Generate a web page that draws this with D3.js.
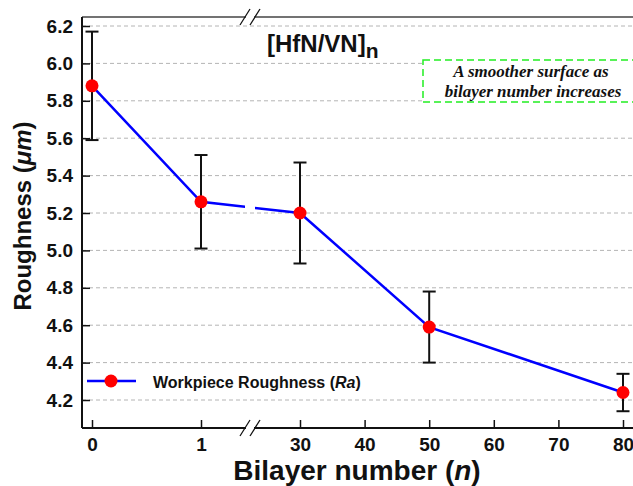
<!DOCTYPE html>
<html>
<head>
<meta charset="utf-8">
<script src="https://cdn.jsdelivr.net/npm/d3@7"></script>
<style>
  body { margin: 0; background: #fff; }
  svg { display: block; }
  text { font-family: Arial, "Liberation Sans", sans-serif; }
</style>
</head>
<body>
<div id="chart"></div>
<script>
// data
var bilayers = [0, 1, 30, 50, 80];
var roughness = [5.88, 5.26, 5.20, 4.59, 4.24];
var errLow = [5.59, 5.01, 4.93, 4.40, 4.14];
var errHigh = [6.17, 5.51, 5.47, 4.78, 4.34];
var xTicks = [0, 1, 30, 40, 50, 60, 70, 80];
var yTicks = [4.2, 4.4, 4.6, 4.8, 5.0, 5.2, 5.4, 5.6, 5.8, 6.0, 6.2];

var width = 633;
var height = 486;
var plotLeft = 82, plotTop = 17, plotBottom = 428, plotRight = 633;
var breakPx = 250;

// broken x axis: 0-1 then 30-80
var x = d3.scaleLinear()
  .domain([0, 1, 30, 80])
  .range([92, 201, 300, 623]);
var y = d3.scaleLinear()
  .domain([4.2, 6.2])
  .range([400, 26]);

var svg = d3.select("#chart").append("svg")
  .attr("width", width)
  .attr("height", height);

svg.append("rect").attr("width", width).attr("height", height).attr("fill", "#fff");

// grid
svg.append("g").selectAll("line")
  .data(yTicks)
  .enter().append("line")
  .attr("x1", plotLeft).attr("x2", plotRight)
  .attr("y1", function(d){ return y(d); })
  .attr("y2", function(d){ return y(d); })
  .attr("stroke", "#b4b4b4")
  .attr("stroke-width", 1)
  .attr("stroke-dasharray", "4,3");

// annotation box
svg.append("rect")
  .attr("x", 423).attr("y", 60)
  .attr("width", 230).attr("height", 42)
  .attr("fill", "#fff")
  .attr("stroke", "#22ee22")
  .attr("stroke-width", 1.5)
  .attr("stroke-dasharray", "7,4");
var note = svg.append("text")
  .attr("text-anchor", "middle")
  .style("font-family", "'Times New Roman', 'Liberation Serif', serif")
  .style("font-style", "italic")
  .style("font-weight", "bold")
  .style("font-size", "17px")
  .attr("fill", "#111");
note.append("tspan").attr("x", 531).attr("y", 77).text("A smoother surface as");
note.append("tspan").attr("x", 533).attr("y", 97).text("bilayer number increases");

// title
var title = svg.append("text")
  .attr("x", 267).attr("y", 52)
  .style("font-weight", "bold")
  .style("font-size", "24px")
  .attr("fill", "#111");
title.append("tspan").text("[HfN/VN]");
title.append("tspan").attr("dy", 6).style("font-size", "21px").text("n");

// axes
var xAxis = d3.axisBottom(x).tickValues(xTicks).tickSizeInner(-8).tickSizeOuter(0).tickPadding(10);
var yAxis = d3.axisLeft(y).tickValues(yTicks).tickSizeInner(-8).tickSizeOuter(0).tickPadding(9)
  .tickFormat(d3.format(".1f"));

var gx = svg.append("g")
  .attr("transform", "translate(0," + plotBottom + ")")
  .call(xAxis);
var gy = svg.append("g")
  .attr("transform", "translate(" + plotLeft + ",0)")
  .call(yAxis);
[gx, gy].forEach(function(g){
  g.select(".domain").remove();
  g.selectAll(".tick line").attr("stroke", "#111").attr("stroke-width", 1.5);
  g.selectAll("text")
    .attr("fill", "#111")
    .style("font-family", "Arial, 'Liberation Sans', sans-serif")
    .style("font-weight", "bold")
    .style("font-size", "19px");
});

// frame lines
svg.append("line").attr("x1", plotLeft).attr("x2", plotRight).attr("y1", plotTop).attr("y2", plotTop)
  .attr("stroke", "#444").attr("stroke-width", 1.5);
svg.append("line").attr("x1", plotLeft).attr("x2", plotRight).attr("y1", plotBottom).attr("y2", plotBottom)
  .attr("stroke", "#111").attr("stroke-width", 2);
svg.append("line").attr("x1", plotLeft).attr("x2", plotLeft).attr("y1", plotTop).attr("y2", plotBottom)
  .attr("stroke", "#111").attr("stroke-width", 2);

// axis break marks
[plotTop, plotBottom].forEach(function(yy){
  svg.append("rect").attr("x", breakPx - 4).attr("y", yy - 2).attr("width", 8).attr("height", 4).attr("fill", "#fff");
  [-5, 5].forEach(function(o){
    svg.append("line")
      .attr("x1", breakPx + o - 5).attr("y1", yy + 8)
      .attr("x2", breakPx + o + 5).attr("y2", yy - 8)
      .attr("stroke", "#111").attr("stroke-width", 1.3);
  });
});

// line with gap at the break
svg.append("clipPath").attr("id", "gapclip")
  .selectAll("rect")
  .data([[plotLeft, breakPx - 5], [breakPx + 5, plotRight]])
  .enter().append("rect")
  .attr("x", function(d){ return d[0]; })
  .attr("width", function(d){ return d[1] - d[0]; })
  .attr("y", 0).attr("height", height);

var line = d3.line()
  .x(function(d, i){ return x(bilayers[i]); })
  .y(function(d){ return y(d); });
svg.append("path")
  .datum(roughness)
  .attr("d", line)
  .attr("clip-path", "url(#gapclip)")
  .attr("fill", "none")
  .attr("stroke", "#0000ff")
  .attr("stroke-width", 2.5);

// error bars
var eb = svg.append("g").selectAll("g")
  .data(bilayers)
  .enter().append("g")
  .attr("stroke", "#111")
  .attr("stroke-width", 2);
eb.append("line")
  .attr("x1", function(d){ return x(d); }).attr("x2", function(d){ return x(d); })
  .attr("y1", function(d, i){ return y(errLow[i]); })
  .attr("y2", function(d, i){ return y(errHigh[i]); });
eb.append("line")
  .attr("x1", function(d){ return x(d) - 6.5; }).attr("x2", function(d){ return x(d) + 6.5; })
  .attr("y1", function(d, i){ return y(errLow[i]); })
  .attr("y2", function(d, i){ return y(errLow[i]); });
eb.append("line")
  .attr("x1", function(d){ return x(d) - 6.5; }).attr("x2", function(d){ return x(d) + 6.5; })
  .attr("y1", function(d, i){ return y(errHigh[i]); })
  .attr("y2", function(d, i){ return y(errHigh[i]); });

// markers
svg.append("g").selectAll("circle")
  .data(roughness)
  .enter().append("circle")
  .attr("cx", function(d, i){ return x(bilayers[i]); })
  .attr("cy", function(d){ return y(d); })
  .attr("r", 6.5)
  .attr("fill", "#ff0000");

// legend
svg.append("line").attr("x1", 87).attr("x2", 136).attr("y1", 381).attr("y2", 381)
  .attr("stroke", "#0000ff").attr("stroke-width", 2.5);
svg.append("circle").attr("cx", 111).attr("cy", 381).attr("r", 6.5).attr("fill", "#ff0000");
var leg = svg.append("text")
  .attr("x", 153).attr("y", 388)
  .style("font-weight", "bold")
  .style("font-size", "16px")
  .attr("fill", "#111");
leg.append("tspan").text("Workpiece Roughness (");
leg.append("tspan").style("font-style", "italic").text("Ra");
leg.append("tspan").text(")");

// axis titles
var xl = svg.append("text")
  .attr("x", 357).attr("y", 480)
  .attr("text-anchor", "middle")
  .style("font-weight", "bold")
  .style("font-size", "28px")
  .attr("fill", "#111");
xl.append("tspan").text("Bilayer number (");
xl.append("tspan").style("font-style", "italic").text("n");
xl.append("tspan").text(")");

var yl = svg.append("text")
  .attr("transform", "translate(31,216) rotate(-90)")
  .attr("text-anchor", "middle")
  .style("font-weight", "bold")
  .style("font-size", "24px")
  .attr("fill", "#111");
yl.append("tspan").text("Roughness (");
yl.append("tspan").style("font-style", "italic").text("\u03bcm");
yl.append("tspan").text(")");
</script>
</body>
</html>
